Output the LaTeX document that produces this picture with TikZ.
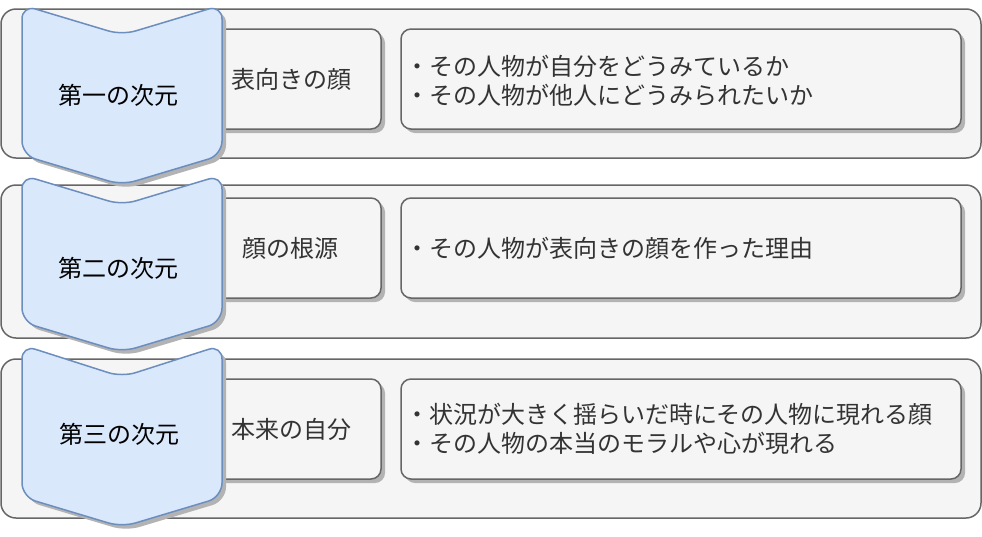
\documentclass[tikz,border=0pt]{standalone}
\usepackage{fontspec}
\setmainfont{Noto Sans CJK JP}
\begin{document}
\begin{tikzpicture}[x=1pt,y=-1pt,
  outerbox/.style={draw=outline,fill=panel,line width=1.5pt,rounded corners=15pt},
  innerbox/.style={draw=outline,fill=panel,line width=1.5pt,rounded corners=10pt},
  chev/.style={draw=chevline,fill=chevfill,line width=1.5pt,rounded corners=14pt},
  chevtext/.style={font=\fontsize{24}{28}\selectfont,text=black},
  boxtext/.style={font=\fontsize{24}{29}\selectfont,text=txtgray},
  listtext/.style={font=\fontsize{24}{29}\selectfont,text=txtgray,align=left,anchor=west,inner sep=0pt}]
\definecolor{outline}{HTML}{666666}
\definecolor{panel}{HTML}{F5F5F5}
\definecolor{shadowgray}{HTML}{B3B3B3}
\definecolor{chevline}{HTML}{6C8EBF}
\definecolor{chevfill}{HTML}{DAE8FC}
\definecolor{txtgray}{HTML}{333333}
\useasboundingbox (0,0) rectangle (982,536);
\fill[white] (0,0) rectangle (982,536);
% outer panels
\draw[outerbox] (1,9) rectangle (981,158);
\draw[outerbox] (1,185) rectangle (981,338);
\draw[outerbox] (1,359) rectangle (981,518);
% inner boxes
\foreach \t/\b in {29/129,198/298,379/479}{
  \fill[shadowgray,rounded corners=10pt] (204,\t+4) rectangle (385,\b+4);
  \draw[innerbox] (200,\t) rectangle (381,\b);
  \fill[shadowgray,rounded corners=10pt] (405,\t+4) rectangle (965,\b+4);
  \draw[innerbox] (401,\t) rectangle (961,\b);
}
% chevrons
\foreach \t/\n/\p in {5/35/185,175/205/352,345/377/527}{
  \fill[shadowgray,rounded corners=14pt] (26,\t+64) -- (26,\t+4) -- (126,\n+4) -- (226,\t+4) -- (226,\p-26) -- (126,\p+4) -- (26,\p-26) -- cycle;
  \draw[chev] (22,\t+60) -- (22,\t) -- (122,\n) -- (222,\t) -- (222,\p-30) -- (122,\p) -- (22,\p-30) -- cycle;
}
% texts
\node[chevtext] (c1) at (118,95) {第一の次元};
\node[chevtext] (c2) at (118,268) {第二の次元};
\node[chevtext] (c3) at (119,434) {第三の次元};
\node[boxtext] (m1) at (291,79) {表向きの顔};
\node[boxtext] (m2) at (290,248) {顔の根源};
\node[boxtext] (m3) at (291,429) {本来の自分};
\node[listtext] (r1) at (405,81) {・その人物が自分をどうみているか\\・その人物が他人にどうみられたいか};
\node[listtext] (r2) at (405,248) {・その人物が表向きの顔を作った理由};
\node[listtext] (r3) at (405,429) {・状況が大きく揺らいだ時にその人物に現れる顔\\・その人物の本当のモラルや心が現れる};
\end{tikzpicture}
\end{document}
